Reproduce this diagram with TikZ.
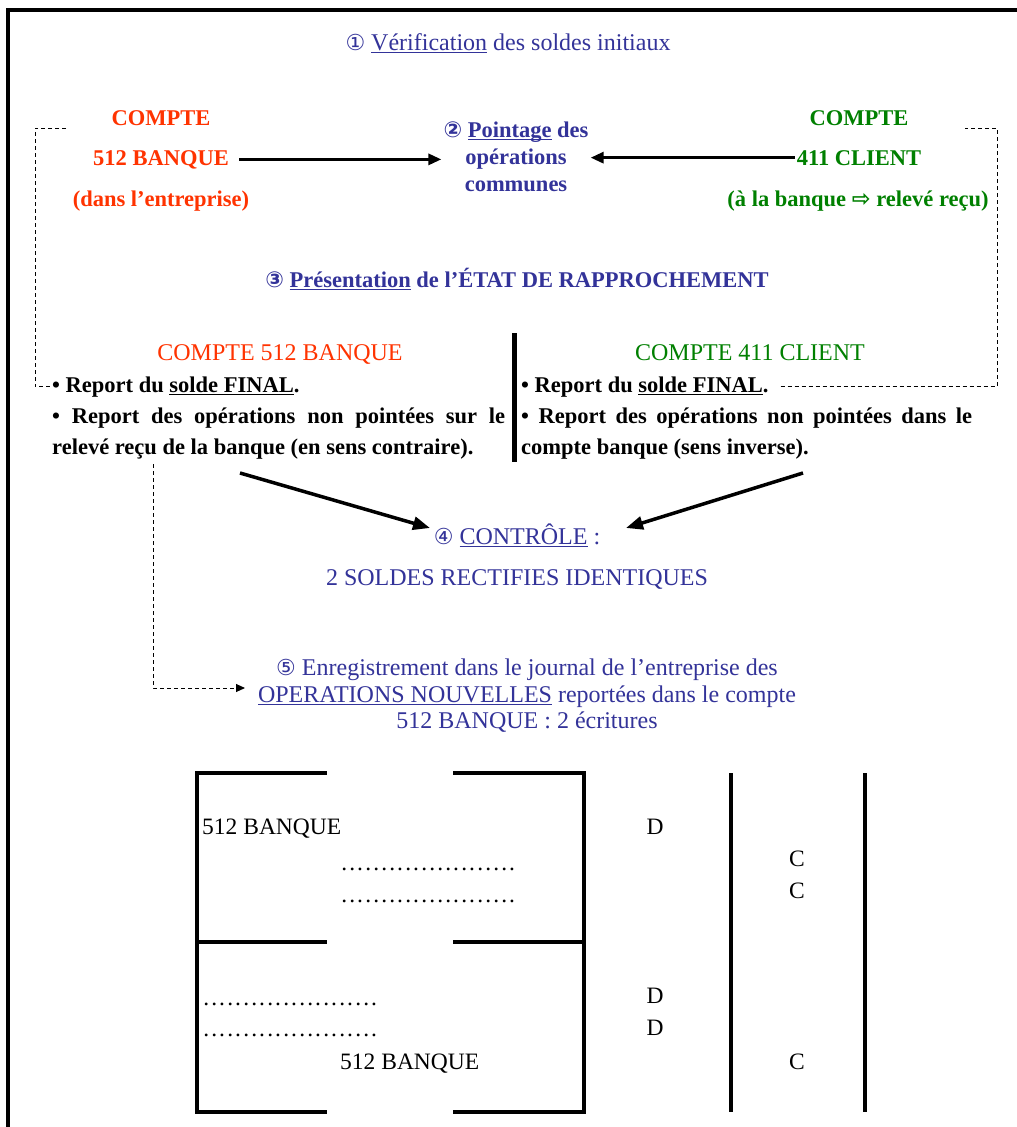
\documentclass[tikz,border=0pt]{standalone}
\usepackage{fontspec}
\setmainfont{Liberation Serif}
\newfontfamily\symf{DejaVu Sans}
\usetikzlibrary{arrows.meta}
\definecolor{cred}{RGB}{255,51,0}
\definecolor{cgreen}{RGB}{0,128,0}
\definecolor{cblue}{RGB}{51,51,153}
\newcommand\myul[1]{\setbox0\hbox{#1}\rlap{\rule[-3pt]{\wd0}{1.2pt}}\box0\relax}
\newcommand\circd[1]{{\symf\fontsize{22}{22}\selectfont #1}}
\newcommand\dotsline{\hbox to 178pt{\leaders\hbox to 8pt{\hss.\hss}\hfill}}
\begin{document}
\begin{tikzpicture}[x=1pt,y=-1pt,
  bt/.style={font=\fontsize{22.5}{27}\selectfont\bfseries, inner sep=2pt, anchor=base},
  rt/.style={font=\fontsize{24}{27}\selectfont, inner sep=2pt, anchor=base},
  tb/.style={font=\fontsize{23.5}{27}\selectfont, inner sep=0pt, anchor=base},
  arr/.style={line width=3pt, -{Triangle[length=13pt,width=11pt]}},
  barr/.style={line width=3.5pt, -{Triangle[length=17pt,width=13pt]}},
  dsh/.style={line width=1pt, dash pattern=on 4pt off 3pt},
  tl/.style={line width=4pt}]
\fill[white] (0,0) rectangle (1017,1127);
\useasboundingbox (0,0) rectangle (1017,1127);
% frame
\draw[line width=4pt] (1017,10) -- (8,10) -- (8,1127);
% step 1
\node[rt, text=cblue] (t1) at (508,50) {\circd{①} \myul{Vérification} des soldes initiaux};
% accounts
\node[bt, text=cred] (c1) at (161,125) {COMPTE};
\node[bt, text=cred] (b512) at (161,165) {512 BANQUE};
\node[bt, text=cred] (d512) at (161,206) {(dans l’entreprise)};
\node[bt, text=cblue] (p1) at (516,137) {\circd{②} \myul{Pointage} des};
\node[bt, text=cblue] (p2) at (516,164) {opérations};
\node[bt, text=cblue] (p3) at (516,191) {communes};
\node[bt, text=cgreen] (c2) at (859,125) {COMPTE};
\node[bt, text=cgreen] (b411) at (859,165) {411 CLIENT};
\node[bt, text=cgreen] (d411) at (858,206) {(à la banque {\symf ⇨} relevé reçu)};
\draw[arr, shorten <=8pt] (b512.east) -- (b512.east -| p1.west);
\draw[arr] (b411.west) -- (b411.west -| p1.east);
% step 3
\node[bt, text=cblue] (t3) at (517,287) {\circd{③} \myul{Présentation} de l’ÉTAT DE RAPPROCHEMENT};
\node[rt, text=cred] (h512) at (280,360) {COMPTE 512 BANQUE};
\node[rt, text=cgreen] (h411) at (750,360) {COMPTE 411 CLIENT};
\draw[line width=5pt] (514,333) -- (514,462);
\node[bt, anchor=base west] (l1) at (50,392) {• Report du \myul{solde FINAL}.};
\node[bt, anchor=base west] (l2) at (50,423) {\makebox[453pt][s]{• Report des opérations non pointées sur le}};
\node[bt, anchor=base west] (l3) at (50,454) {relevé reçu de la banque (en sens contraire).};
\node[bt, anchor=base west] (r1) at (519,392) {• Report du \myul{solde FINAL}.};
\node[bt, anchor=base west] (r2) at (519,423) {\makebox[451pt][s]{• Report des opérations non pointées dans le}};
\node[bt, anchor=base west] (r3) at (519,454) {compte banque (sens inverse).};
% dashed links
\coordinate (dL) at (66,128);
\coordinate (dR) at (965,128);
\draw[dsh] (dL) -- (35,128) |- (l1.west);
\draw[dsh, shorten <=10pt] (r1.east) -| (997,128) -- (dR);
\coordinate (dS) at (153,464);
\coordinate (dE) at (245,688);
\draw[dsh, -{Triangle[length=9pt,width=8pt]}] (dS) |- (dE);
% step 4
\node[rt, text=cblue] (ctrl) at (517,544) {\circd{④} \myul{CONTRÔLE} :};
\node[rt, text=cblue] (sold) at (517,585) {2 SOLDES RECTIFIES IDENTIQUES};
\coordinate (aL) at (240,473);
\coordinate (aR) at (803,473);
\coordinate (cL) at (430,528);
\coordinate (cR) at (626,528);
\draw[barr] (aL) -- (cL);
\draw[barr] (aR) -- (cR);
% step 5
\node[rt, text=cblue] (e1) at (527,675) {\circd{⑤} Enregistrement dans le journal de l’entreprise des};
\node[rt, text=cblue] (e2) at (527,702) {\myul{OPERATIONS NOUVELLES} reportées dans le compte};
\node[rt, text=cblue] (e3) at (527,728) {512 BANQUE : 2 écritures};
% journal table
\draw[tl] (195,773) -- (327,773);
\draw[tl] (453,773) -- (586,773);
\draw[tl] (197,771) -- (197,1114);
\draw[tl] (584,771) -- (584,1114);
\draw[tl] (195,942) -- (327,942);
\draw[tl] (453,942) -- (584,942);
\draw[tl] (195,1112) -- (327,1112);
\draw[tl] (453,1112) -- (586,1112);
\draw[tl] (731,773) -- (731,1112);
\draw[tl] (865,773) -- (865,1112);
\node[tb, anchor=base west] (j1) at (202,834) {512 BANQUE};
\node[tb, anchor=base west] (j2) at (340,870) {\dotsline};
\node[tb, anchor=base west] (j3) at (340,902) {\dotsline};
\node[tb, anchor=base west] (j4) at (202,1005) {\dotsline};
\node[tb, anchor=base west] (j5) at (202,1036) {\dotsline};
\node[tb, anchor=base west] (j6) at (340,1069) {512 BANQUE};
\node[tb] (jd1) at (655,834) {D};
\node[tb] (jd2) at (655,1003) {D};
\node[tb] (jd3) at (655,1035) {D};
\node[tb] (jc1) at (797,866) {C};
\node[tb] (jc2) at (797,898) {C};
\node[tb] (jc3) at (797,1069) {C};
\end{tikzpicture}
\end{document}
